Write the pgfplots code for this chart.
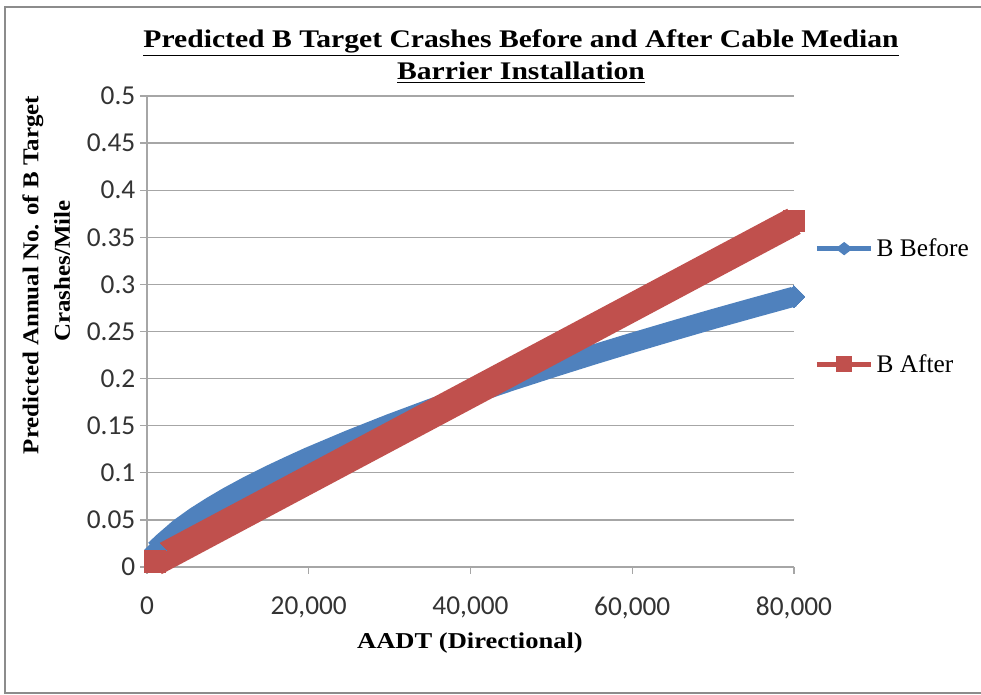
\documentclass[border=0pt]{standalone}
\usepackage{fontspec}
\setmainfont{Liberation Serif}
\newfontfamily\carlito{Carlito}
\usepackage{pgfplots}
\pgfplotsset{compat=1.18}
\definecolor{xlblue}{HTML}{4F81BD}
\definecolor{xlred}{HTML}{C0504D}
\definecolor{gridgray}{HTML}{A6A6A6}
\definecolor{framegray}{HTML}{8C8C8C}
\begin{document}
\begin{tikzpicture}
\path[use as bounding box] (0pt,0pt) rectangle (735.75pt,521.25pt);
\draw[framegray, line width=1.5pt] (735.75pt,516pt) -- (3.75pt,516pt) -- (3.75pt,1.5pt) -- (735.75pt,1.5pt);
\begin{axis}[
  at={(110.25pt,96pt)}, anchor=south west, scale only axis,
  width=485.25pt, height=353.25pt,
  xmin=0, xmax=80000, ymin=0, ymax=0.5,
  clip=false,
  axis x line*=bottom, axis y line*=left,
  axis line style={-, draw=gridgray, line width=1pt},
  xtick={0,20000,40000,60000,80000},
  ytick={0,0.05,0.1,0.15,0.2,0.25,0.3,0.35,0.4,0.45,0.5},
  ymajorgrids, grid style={gridgray, line width=1pt},
  tick align=outside, major tick length=5.25pt,
  tick style={gridgray, line width=1pt},
  scaled x ticks=false, scaled y ticks=false,
  /pgf/number format/assume math mode=true,
  xticklabel style={/pgf/number format/fixed, /pgf/number format/1000 sep={,}, yshift=-13.5pt},
  yticklabel style={/pgf/number format/fixed, /pgf/number format/precision=2},
  ticklabel style={font=\carlito\fontsize{20.5}{21}\selectfont, text=black!80},
  legend cell align=left,
  legend style={draw=none, fill=none, at={(1.031,0.553)}, anchor=west,
    inner sep=0pt, row sep=68pt, font=\fontsize{19}{19}\selectfont,
    /tikz/every even column/.append style={column sep=3pt}},
]
\addplot[xlblue, line width=15pt, line join=round, line cap=butt,
  mark=square*, mark indices={1,22}, mark size=5.83pt,
  mark options={rotate=45, solid, line width=0pt, fill=xlblue, draw=xlblue},
  legend image code/.code={
    \path[draw=xlblue, line width=3.75pt, line join=miter] (0pt,0pt) -- (41pt,0pt);
    \path[fill=xlblue, draw=none, line width=0pt] (14pt,0pt) -- (20.5pt,5pt) -- (27pt,0pt) -- (20.5pt,-5pt) -- cycle;}]
coordinates {(1000,0.018)(2000,0.0261)(4000,0.041)(6000,0.0533)(8000,0.0642)(10000,0.0743)(12500,0.0859)(15000,0.0967)(17500,0.1068)(20000,0.1166)(25000,0.1347)(30000,0.1517)(35000,0.1677)(40000,0.1829)(45000,0.1975)(50000,0.2114)(55000,0.2249)(60000,0.2380)(65000,0.2507)(70000,0.2632)(75000,0.2752)(80000,0.287)};
\addlegendentry{B Before}
\addplot[xlred, line width=21.3pt, line join=round, line cap=butt,
  mark=square*, mark indices={1,9}, mark size=7.9pt,
  mark options={solid, line width=0pt, fill=xlred, draw=xlred},
  legend image code/.code={
    \path[draw=xlred, line width=3.75pt, line join=miter] (0pt,0pt) -- (41pt,0pt);
    \path[fill=xlred, draw=none, line width=0pt] (14.5pt,-6pt) rectangle (26.5pt,6pt);}]
coordinates {(1000,0.0058)(10000,0.047)(20000,0.0927)(30000,0.1384)(40000,0.1841)(50000,0.2298)(60000,0.2755)(70000,0.3213)(80000,0.367)};
\addlegendentry{B After}
\end{axis}
\node[anchor=base, font=\bfseries\fontsize{19}{19}\selectfont] at (390.75pt,485.25pt) {\scalebox{1.17}[1]{\underline{Predicted B Target Crashes Before and After Cable Median}}};
\node[anchor=base, font=\bfseries\fontsize{19}{19}\selectfont] at (390.75pt,461.25pt) {\scalebox{1.17}[1]{\underline{Barrier Installation}}};
\node[rotate=90, font=\bfseries\fontsize{17}{17}\selectfont] at (24.75pt,315pt) {\scalebox{1.1}[1]{Predicted Annual No. of B Target}};
\node[rotate=90, font=\bfseries\fontsize{17}{17}\selectfont] at (46.5pt,318pt) {\scalebox{1.1}[1]{Crashes/Mile}};
\node[font=\bfseries\fontsize{17}{17}\selectfont] at (352.5pt,39pt) {\scalebox{1.17}[1]{AADT (Directional)}};
\end{tikzpicture}
\end{document}
